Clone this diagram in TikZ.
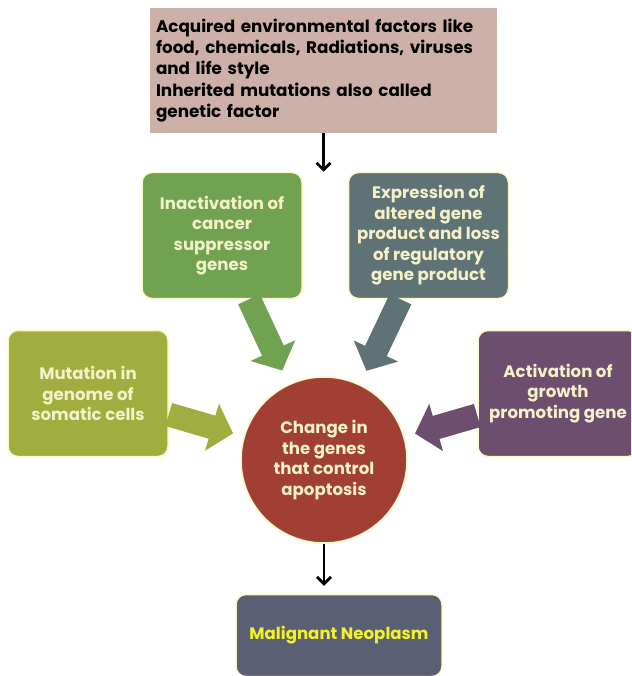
\documentclass[tikz,border=0pt]{standalone}
\usepackage{fontspec}
\setmainfont{Poppins}
\usetikzlibrary{arrows.meta,positioning}
\definecolor{envpink}{HTML}{CDB1A9}
\definecolor{inactgreen}{HTML}{70A251}
\definecolor{exprgrey}{HTML}{5F7376}
\definecolor{mutolive}{HTML}{9FAE3F}
\definecolor{actpurple}{HTML}{6E4E6F}
\definecolor{changered}{HTML}{A23F34}
\definecolor{neoslate}{HTML}{5B5F74}
\definecolor{edgecream}{HTML}{FBF8C8}
\definecolor{textcream}{HTML}{F4F0C8}
\definecolor{neoyellow}{HTML}{F2F22A}
\tikzset{x=1pt,y=-1pt}
\tikzset{box/.style={draw=edgecream,line width=1.5pt,rounded corners=10pt,
    minimum width=160pt,minimum height=126pt,align=center,text=textcream,
    font=\bfseries\fontsize{16.6}{20.5}\selectfont},
  fat/.style={draw=#1,line width=24pt,-{Triangle[length=22pt,width=48pt]}},
  blackarrow/.style={line width=2.8pt,-{Straight Barb[length=7pt,width=14pt]}}}

\begin{document}
\begin{tikzpicture}
    \clip (0,0) rectangle (631,676);
    \node[fill=envpink,minimum width=347pt,minimum height=125pt,text width=335pt,
          align=left,font=\bfseries\fontsize{16.8}{21.3}\selectfont] (env) at (323.5,70.5)
        {Acquired environmental factors like\\
         food, chemicals, Radiations, viruses\\
         and life style\\
         Inherited mutations also called\\
         genetic factor};
    \node[box,fill=inactgreen] (inact) at (222,235.5)
        {Inactivation of\\cancer\\suppressor\\genes};
    \node[box,fill=exprgrey] (expr) [right=45pt of inact]
        {Expression of\\altered gene\\product and loss\\of regulatory\\gene product};
    \node[box,fill=mutolive] (mut) at (88,393.5)
        {Mutation in\\genome of\\somatic cells};
    \node[box,fill=actpurple] (act) at (558,393.5)
        {Activation of\\growth\\promoting gene};
    \node[box,circle,fill=changered,minimum size=166pt] (change) at (324,460)
        {Change in\\the genes\\that control\\apoptosis};
    \node[box,fill=neoslate,minimum width=206pt,minimum height=82pt,
          text=neoyellow] (neo) [below=50pt of change,xshift=15pt] {Malignant Neoplasm};
    \coordinate (split) at (env.south |- inact.north);
    \coordinate (land) at (change.south |- neo.north);
    % arrows
    \draw[blackarrow] (env.south) -- (split);
    \draw[blackarrow,shorten >=8pt] (change.south) -- (land);
    \draw[fat=inactgreen,shorten >=15pt] ([xshift=27pt]inact.south) -- (change);
    \draw[fat=exprgrey,shorten >=15pt] ([xshift=-28pt]expr.south) -- (change);
    \draw[fat=mutolive,shorten >=11pt] ([yshift=-21pt]mut.east) -- (change);
    \draw[fat=actpurple,shorten >=11pt] ([yshift=-22pt]act.west) -- (change);
\end{tikzpicture}
\end{document}
